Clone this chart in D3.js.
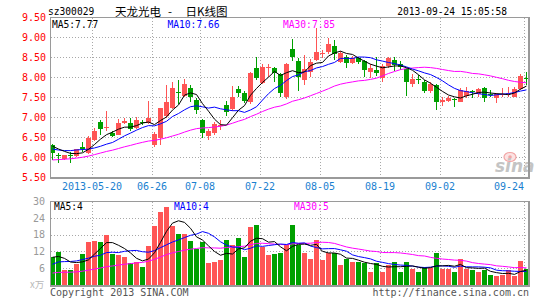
<!DOCTYPE html>
<html><head><meta charset="utf-8">
<script src="https://cdn.jsdelivr.net/npm/d3@7"></script>
<style>
html,body{margin:0;padding:0;background:#fff;}
svg{display:block;}
</style></head><body>
<svg id="c" width="545" height="300"></svg>
<script>
// ---------------- data ----------------
const dates = [
 "2013-05-09","2013-05-10","2013-05-13","2013-05-14","2013-05-15","2013-05-16","2013-05-17",
 "2013-05-20","2013-05-21","2013-05-22","2013-05-23","2013-05-24",
 "2013-05-27","2013-05-28","2013-05-29","2013-05-30","2013-05-31",
 "2013-06-26","2013-06-27","2013-06-28",
 "2013-07-01","2013-07-02","2013-07-03","2013-07-04","2013-07-05",
 "2013-07-08","2013-07-09","2013-07-10","2013-07-11","2013-07-12",
 "2013-07-15","2013-07-16","2013-07-17","2013-07-18","2013-07-19",
 "2013-07-22","2013-07-23","2013-07-24","2013-07-25","2013-07-26",
 "2013-07-29","2013-07-30","2013-07-31","2013-08-01","2013-08-02",
 "2013-08-05","2013-08-06","2013-08-07","2013-08-08","2013-08-09",
 "2013-08-12","2013-08-13","2013-08-14","2013-08-15","2013-08-16",
 "2013-08-19","2013-08-20","2013-08-21","2013-08-22","2013-08-23",
 "2013-08-26","2013-08-27","2013-08-28","2013-08-29","2013-08-30",
 "2013-09-02","2013-09-03","2013-09-04","2013-09-05","2013-09-06",
 "2013-09-09","2013-09-10","2013-09-11","2013-09-12","2013-09-13",
 "2013-09-16","2013-09-17","2013-09-18","2013-09-23","2013-09-24"];

const open = [6.29,6.06,5.95,6.05,6.02,6.26,6.10,6.43,6.87,6.73,
 6.59,6.56,6.84,6.85,6.72,6.88,6.84,6.29,6.48,7.02,
 7.22,7.62,7.53,7.73,7.43,6.93,6.53,6.60,6.78,7.30,
 7.19,7.70,7.61,7.38,8.23,7.85,8.24,8.23,8.07,7.50,
 8.70,8.40,7.92,8.13,8.43,8.58,8.62,8.78,8.38,8.50,
 8.34,8.47,8.39,8.13,8.18,7.98,8.27,8.43,8.32,8.20,
 7.83,7.94,7.88,7.65,7.80,7.37,7.40,7.44,7.38,7.53,
 7.65,7.57,7.73,7.58,7.47,7.56,7.58,7.51,7.70,7.98];
const high = [6.33,6.10,6.06,6.13,6.21,6.38,6.52,6.73,6.93,7.15,
 6.64,6.96,6.97,6.97,6.99,6.93,7.40,6.62,7.23,7.79,
 7.88,7.92,7.95,7.80,7.48,6.95,6.70,6.87,6.92,7.40,
 7.78,7.77,7.64,8.12,8.50,8.33,8.32,8.25,8.10,8.34,
 8.95,8.47,8.55,8.45,9.22,8.68,8.98,8.92,8.65,8.55,
 8.53,8.50,8.42,8.32,8.50,8.32,8.51,8.51,8.40,8.23,
 8.07,8.05,7.93,7.87,7.82,7.50,7.52,7.47,7.73,7.76,
 7.67,7.73,7.76,7.67,7.59,7.72,7.76,7.76,8.07,8.13];
const low = [5.93,5.84,5.93,5.84,6.00,6.13,6.08,6.40,6.55,6.66,
 6.50,6.55,6.82,6.65,6.70,6.80,6.82,6.25,6.30,6.97,
 7.20,7.32,7.50,7.38,7.07,6.47,6.43,6.54,6.68,7.02,
 7.15,7.50,7.35,7.33,7.92,7.83,8.00,7.88,7.51,7.45,
 8.40,7.65,7.80,8.00,8.40,8.47,8.58,8.43,8.35,8.23,
 8.32,8.32,8.01,7.97,8.03,7.88,8.22,8.15,8.17,7.53,
 7.76,7.82,7.59,7.59,7.18,7.28,7.38,7.26,7.37,7.48,
 7.48,7.51,7.38,7.51,7.34,7.51,7.51,7.49,7.67,7.80];
const close = [6.11,6.04,6.05,6.03,6.19,6.21,6.48,6.65,6.70,6.75,
 6.53,6.85,6.90,6.71,6.93,6.86,6.97,6.58,7.22,7.37,
 7.73,7.60,7.82,7.49,7.17,6.59,6.66,6.82,6.80,7.12,
 7.51,7.60,7.39,8.10,7.97,8.26,8.26,8.11,7.59,8.32,
 8.51,8.01,8.20,8.38,8.63,8.60,8.82,8.58,8.60,8.34,
 8.48,8.37,8.18,8.23,8.10,8.27,8.48,8.30,8.24,7.87,
 7.95,7.92,7.66,7.82,7.37,7.43,7.47,7.43,7.67,7.65,
 7.62,7.70,7.47,7.56,7.57,7.58,7.60,7.70,8.03,7.96];
// volume in 10,000 (万)
const volume = [9.9,11.9,5.4,5.4,7.5,11.1,15.5,15.7,15.5,17.9,
 11.1,10.7,9.9,7.7,8.3,6.5,13.9,21.2,26.2,28.0,
 21.2,18.1,18.3,15.7,12.7,15.5,7.7,8.3,8.9,16.1,
 14.3,16.9,10.1,20.8,21.4,13.5,10.7,11.1,11.5,14.3,
 21.4,14.3,11.5,9.3,16.1,8.9,11.5,11.3,7.1,9.3,
 8.3,8.3,7.7,4.8,7.7,4.8,7.1,8.3,4.8,8.3,
 5.6,4.8,6.3,6.0,11.5,5.6,5.6,4.8,9.3,5.6,
 5.2,4.8,5.2,3.6,3.3,3.6,5.2,3.3,8.7,5.6];
// estimated sessions before the visible window (only feed the moving averages at the left edge)
const priorCloses = [5.80,5.75,5.70,5.66,5.62,5.58,5.55,5.52,5.55,5.58,
 5.60,5.62,5.65,5.70,5.80,6.00,6.12,6.25,6.35,6.40,
 6.30,6.18,6.05,6.02,6.10,6.39,6.35,6.28,6.22];
const priorVolumes = [4.5,4.2,4.8,4.0,3.9,4.4,4.1,3.8,3.6,3.7,
 1.2,1.0,0.9,1.1,0.8,1.0,1.2,1.5,1.8,2.5,
 3.5,4.2,5.0,5.5,6.3,10.4,8.9,11.9,8.4];

const priceTicks = [9.5,9.0,8.5,8.0,7.5,7.0,6.5,6.0,5.5];
const volumeTicks = [30,24,18,12,6];
const tickDates = ["2013-05-20","2013-06-26","2013-07-08","2013-07-22","2013-08-05","2013-08-19","2013-09-02","2013-09-24"];
const tickLabels = ["2013-05-20","06-26","07-08","07-22","08-05","08-19","09-02","09-24"];
const maPeriods = [5,10,30];
const priceLegend = ["MA5:7.77","MA10:7.66","MA30:7.85"];
const volumeLegend = ["MA5:4","MA10:4","MA30:5"];
const stockCode = "sz300029";
const titleParts = ["天龙光电","-","日K线图"];
const timestamp = "2013-09-24 15:05:58";

// ---------------- style ----------------
const MONO = "'DejaVu Sans Mono','Liberation Mono',monospace";
const CJK = "'Noto Sans CJK SC','Noto Sans CJK JP',sans-serif";
const UP = "#ff5555", DOWN = "#00a000";
const maColors = ["#000000","#0000ff","#ff00ff"];
const GRID = "#a8a8a8", BORDER = "#9a9a9a";

const svg = d3.select("#c");

// ---------------- scales ----------------
const x = d3.scaleBand().domain(dates).range([50, 530]).paddingInner(0).paddingOuter(0);
const yP = d3.scaleLinear().domain([5.5, 9.5]).range([177, 17]);
const yV = d3.scaleLinear().domain([0, 30]).range([285, 201]);
const bodyW = 5;
const cx = d => x(d) + bodyW / 2;

// ---------------- moving averages ----------------
function movingAvg(prior, values, n) {
  const all = prior.concat(values);
  const off = prior.length;
  return values.map((_, i) => d3.mean(all.slice(off + i - n + 1, off + i + 1)));
}
const priceMA = maPeriods.map(n => movingAvg(priorCloses, close, n));
const volMA = maPeriods.map(n => movingAvg(priorVolumes, volume, n));

// ---------------- grids ----------------
const grid = svg.append("g").attr("stroke", GRID).attr("stroke-dasharray", "1,2")
  .attr("shape-rendering", "crispEdges");
grid.selectAll(".hp").data(priceTicks.filter(t => t > 5.5 && t < 9.5)).join("line")
  .attr("x1", 51).attr("x2", 529)
  .attr("y1", d => Math.round(yP(d)) + 0.5).attr("y2", d => Math.round(yP(d)) + 0.5);
grid.selectAll(".hv").data(volumeTicks.filter(t => t < 30)).join("line")
  .attr("x1", 51).attr("x2", 529)
  .attr("y1", d => Math.round(yV(d)) + 0.5).attr("y2", d => Math.round(yV(d)) + 0.5);
grid.selectAll(".vp").data(tickDates).join("line")
  .attr("x1", d => x(d) + 0.5).attr("x2", d => x(d) + 0.5).attr("y1", 18).attr("y2", 177);
grid.selectAll(".vv").data(tickDates).join("line")
  .attr("x1", d => x(d) + 0.5).attr("x2", d => x(d) + 0.5).attr("y1", 202).attr("y2", 285);

// ---------------- watermark ----------------
const wm = svg.append("g");
wm.append("ellipse").attr("cx", 510).attr("cy", 157).attr("rx", 6).attr("ry", 4.5)
  .attr("fill", "#fbe3e3").attr("stroke", "#f2a5a5").attr("stroke-width", 1.2);
wm.append("circle").attr("cx", 510).attr("cy", 157).attr("r", 1.8).attr("fill", "#f2a5a5");
wm.append("text").attr("x", 495).attr("y", 172).text("sina")
  .attr("font-family", "'DejaVu Sans',sans-serif").attr("font-style", "italic").attr("font-weight", "bold")
  .attr("font-size", 17).attr("fill", "#c4c4c4");

// ---------------- candles ----------------
const cg = svg.append("g");
const cdl = dates.map((d, i) => ({d, o: open[i], h: high[i], l: low[i], c: close[i]}));
cg.selectAll("line").data(cdl).join("line")
  .attr("x1", p => cx(p.d)).attr("x2", p => cx(p.d))
  .attr("y1", p => yP(p.h)).attr("y2", p => yP(p.l))
  .attr("stroke", p => p.c >= p.o ? UP : DOWN).attr("stroke-width", 1)
  .attr("shape-rendering", "crispEdges");
cg.selectAll("rect").data(cdl).join("rect")
  .attr("x", p => x(p.d)).attr("width", bodyW)
  .attr("y", p => Math.round(yP(Math.max(p.o, p.c))))
  .attr("height", p => Math.max(1, Math.round(yP(Math.min(p.o, p.c))) - Math.round(yP(Math.max(p.o, p.c)))))
  .attr("fill", p => p.c >= p.o ? UP : DOWN)
  .attr("shape-rendering", "crispEdges");

// ---------------- volume bars ----------------
svg.append("g").selectAll("rect").data(dates).join("rect")
  .attr("x", d => x(d)).attr("width", bodyW)
  .attr("y", (d, i) => Math.round(yV(volume[i])))
  .attr("height", (d, i) => yV(0) - Math.round(yV(volume[i])))
  .attr("fill", (d, i) => close[i] >= open[i] ? UP : DOWN)
  .attr("shape-rendering", "crispEdges");

// ---------------- MA lines ----------------
const lineP = d3.line().x((v, i) => cx(dates[i])).y(v => yP(v));
const lineV = d3.line().x((v, i) => cx(dates[i])).y(v => yV(v));
[2, 1, 0].forEach(j => {
  svg.append("path").attr("d", lineP(priceMA[j])).attr("fill", "none")
    .attr("stroke", maColors[j]).attr("stroke-width", 1);
  svg.append("path").attr("d", lineV(volMA[j])).attr("fill", "none")
    .attr("stroke", maColors[j]).attr("stroke-width", 1);
});

// ---------------- borders ----------------
const bd = svg.append("g").attr("fill", "none").attr("stroke", BORDER).attr("shape-rendering", "crispEdges");
bd.append("rect").attr("x", 50.5).attr("y", 17.5).attr("width", 479).attr("height", 160);
bd.append("line").attr("x1", 528.5).attr("x2", 528.5).attr("y1", 17).attr("y2", 179);
bd.append("line").attr("x1", 50).attr("x2", 530).attr("y1", 178.5).attr("y2", 178.5);
bd.append("rect").attr("x", 50.5).attr("y", 201.5).attr("width", 479).attr("height", 84);
bd.append("line").attr("x1", 528.5).attr("x2", 528.5).attr("y1", 201).attr("y2", 287);
bd.append("line").attr("x1", 50).attr("x2", 530).attr("y1", 286.5).attr("y2", 286.5);

// ---------------- axes ----------------
const ax1 = svg.append("g").attr("transform", "translate(46,0)")
  .call(d3.axisLeft(yP).tickValues(priceTicks).tickFormat(d3.format(".2f")).tickSize(0).tickPadding(0));
ax1.select(".domain").remove();
ax1.selectAll("text").attr("fill", "#ff0000").attr("font-family", MONO).attr("font-size", 10);

const ax2 = svg.append("g").attr("transform", "translate(45,0)")
  .call(d3.axisLeft(yV).tickValues(volumeTicks).tickFormat(d3.format("d")).tickSize(0).tickPadding(0));
ax2.select(".domain").remove();
ax2.selectAll("text").attr("fill", "#999999").attr("font-family", MONO).attr("font-size", 10);

const ax3 = svg.append("g").attr("transform", `translate(${-x.bandwidth() / 2},182.5)`)
  .call(d3.axisBottom(x).tickValues(tickDates).tickFormat((d, i) => tickLabels[i]).tickSize(0).tickPadding(0));
ax3.select(".domain").remove();
ax3.selectAll("text").attr("fill", "#1a7fd0").attr("font-family", MONO).attr("font-size", 10);
ax3.selectAll("text").filter((d, i) => i === tickDates.length - 1).attr("text-anchor", "end");

// ---------------- legends ----------------
svg.append("g").selectAll("text").data(priceLegend).join("text")
  .attr("x", (d, i) => 52 + i * 115.5).attr("y", 27.5).text(d => d)
  .attr("fill", (d, i) => maColors[i]).attr("font-family", MONO).attr("font-size", 9.6);
svg.append("g").selectAll("text").data(volumeLegend).join("text")
  .attr("x", (d, i) => 54 + i * 120).attr("y", 210).text(d => d)
  .attr("fill", (d, i) => maColors[i]).attr("font-family", MONO).attr("font-size", 9.6);

// ---------------- header / footer ----------------
svg.append("text").attr("x", 48).attr("y", 14.5).text(stockCode)
  .attr("font-family", MONO).attr("font-size", 9.6).attr("fill", "#000");
const tg = svg.append("g").attr("font-family", CJK).attr("font-size", 11.5).attr("fill", "#000");
tg.append("text").attr("x", 115).attr("y", 15.5).text(titleParts[0]);
tg.append("text").attr("x", 168).attr("y", 15.5).text(titleParts[1]);
tg.append("text").attr("x", 185.5).attr("y", 15.5).text(titleParts[2]);
svg.append("text").attr("x", 507).attr("y", 14.5).attr("text-anchor", "end").text(timestamp)
  .attr("font-family", MONO).attr("font-size", 9.6).attr("fill", "#000");

svg.append("text").attr("x", 30).attr("y", 288).text("x万")
  .attr("font-family", CJK).attr("font-size", 9.5).attr("fill", "#b8b8b8");
svg.append("text").attr("x", 50).attr("y", 295.5).text("Copyright 2013 SINA.COM")
  .attr("font-family", MONO).attr("font-size", 10).attr("fill", "#555");
svg.append("text").attr("x", 529).attr("y", 295.5).attr("text-anchor", "end").text("http://finance.sina.com.cn")
  .attr("font-family", MONO).attr("font-size", 10).attr("fill", "#555");
</script>
</body></html>
